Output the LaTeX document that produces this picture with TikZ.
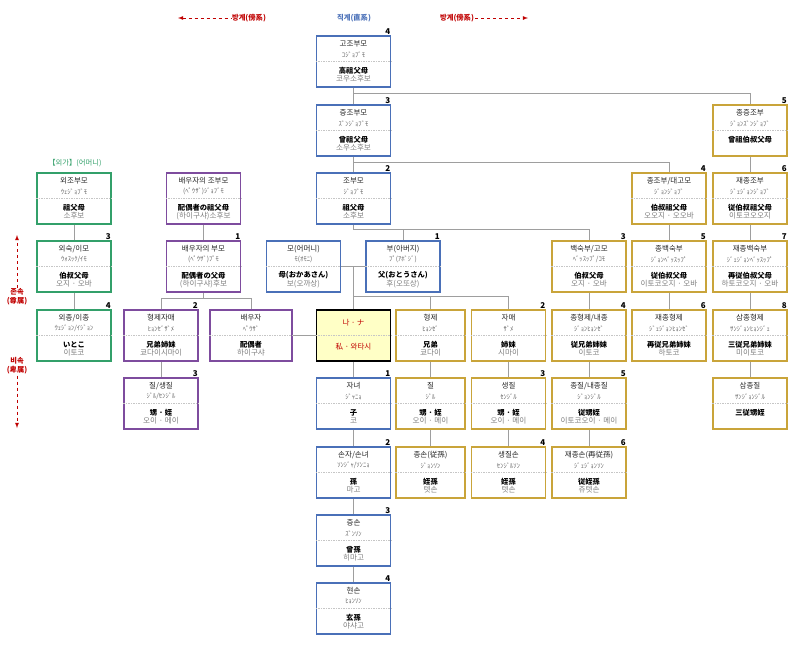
\documentclass[tikz,border=0pt]{standalone}
\usepackage{fontspec}
\setmainfont{Noto Sans CJK KR}
\usepackage{tikz}

\definecolor{kinblue}{HTML}{4A70B8}
\definecolor{kingold}{HTML}{C9A43A}
\definecolor{kingreen}{HTML}{33A06A}
\definecolor{kinpurple}{HTML}{7E4C9E}
\definecolor{kinred}{HTML}{C00000}
\definecolor{nayellow}{HTML}{FFFFC6}

\tikzset{
  kinbox/.style={rectangle, minimum width=74pt, minimum height=51pt, inner sep=0pt, line width=1.1pt, fill=white},
  divider/.style={gray!45, line width=0.4pt, dash pattern=on 1.5pt off 1pt},
  kintitle/.style={inner sep=0pt, font=\fontsize{7.5}{8}\selectfont, text=black!85},
  kinkana/.style={inner sep=0pt, font=\fontsize{6.6}{7}\selectfont, text=black!60},
  kinhanja/.style={inner sep=0pt, font=\fontsize{7.3}{8}\selectfont\bfseries, text=black},
  kinread/.style={inner sep=0pt, font=\fontsize{7.6}{8}\selectfont, text=black!50},
  degnum/.style={anchor=south east, inner sep=0.5pt, font=\fontsize{8}{9}\selectfont\bfseries},
  link/.style={black!38, line width=0.8pt},
  sidelbl/.style={inner sep=1pt, font=\fontsize{7.3}{9}\selectfont\bfseries, align=center}
}

% one box of the chart: [extra style]{name}{colour}{x}{top}{korean}{kana}{hanja}{reading}
\newcommand{\kin}[9][]{%
  \node[kinbox, draw=#3, #1] (#2) at (#4,-#5-25.5) {};
  \draw[divider] (#2.west) -- (#2.east);
  \node[kintitle] at ([yshift=-8.5pt]#2.north) {#6};
  \node[kinkana] at ([yshift=-19pt]#2.north) {#7};
  \node[kinhanja] at ([yshift=-35pt]#2.north) {#8};
  \node[kinread] at ([yshift=-43.5pt]#2.north) {#9};
}

\begin{document}
\begin{tikzpicture}[x=1pt, y=1pt, >=latex]
  \useasboundingbox (0,0) rectangle (800,-646);

  % Headers
  \node[sidelbl, text=kinred] (lefthead) at (249,-18) {방계(傍系)};
  \node[sidelbl, text=kinblue] (midhead) at (354,-18) {직계(直系)};
  \node[sidelbl, text=kinred] (righthead) at (457,-18) {방계(傍系)};
  \coordinate (leftend) at (178,-18);
  \coordinate (rightend) at (528,-18);
  \draw[<-, kinred, dashed, line width=0.8pt] (leftend) -- (lefthead.west);
  \draw[->, kinred, dashed, line width=0.8pt] (righthead.east) -- (rightend);

  \node[sidelbl, text=kinred] (zonsok) at (17,-297) {존속\\(尊属)};
  \node[sidelbl, text=kinred] (bisok) at (17,-366) {비속\\(卑属)};
  \coordinate (uptip) at (17,-235);
  \coordinate (downtip) at (17,-428);
  \draw[->, kinred, dashed, line width=0.8pt] (zonsok.north) -- (uptip);
  \draw[->, kinred, dashed, line width=0.8pt] (bisok.south) -- (downtip);

  \node[sidelbl, text=kingreen, font=\fontsize{7.3}{8}\selectfont] (wegahead) at (75,-163) {【외가】(어머니)};

  % Direct line
  \kin{gjbm}{kinblue}{353.5}{36}{고조부모}{ｺｼﾞｮﾌﾞﾓ}{高祖父母}{코우소후보}
  \kin{jjbm}{kinblue}{353.5}{105}{증조부모}{ｽﾞﾝｼﾞｮﾌﾞﾓ}{曾祖父母}{소우소후보}
  \kin{jbm}{kinblue}{353.5}{173}{조부모}{ｼﾞｮﾌﾞﾓ}{祖父母}{소후보}
  \kin{mo}{kinblue}{303.5}{241}{모(어머니)}{ﾓ(ｵﾓﾆ)}{母(おかあさん)}{보(오까상)}
  \kin{bu}{kinblue}{403}{241}{부(아버지)}{ﾌﾟ(ｱﾎﾞｼﾞ)}{父(おとうさん)}{후(오또상)}
  \kin{ja}{kinblue}{353.5}{378}{자녀}{ｼﾞｬﾆｮ}{子}{코}
  \kin{son}{kinblue}{353.5}{447}{손자/손녀}{ｿﾝｼﾞｬ/ｿﾝﾆｮ}{孫}{마고}
  \kin{json}{kinblue}{353.5}{515}{증손}{ｽﾞﾝｿﾝ}{曾孫}{히마고}
  \kin{hson}{kinblue}{353.5}{583}{현손}{ﾋｮﾝｿﾝ}{玄孫}{야샤고}

  \node[kinbox, draw=black, line width=1.6pt, fill=nayellow] (na) at (353.5,-335.5) {};
  \draw[divider] (na.west) -- (na.east);
  \node[kintitle, text=kinred] at ([yshift=-13pt]na.north) {나 · ナ};
  \node[kintitle, text=kinred] at ([yshift=-37pt]na.north) {私 · 와타시};

  % Collateral line
  \kin{jjjb}{kingold}{750}{105}{종증조부}{ｼﾞｮﾝｽﾞﾝｼﾞｮﾌﾞ}{曾祖伯叔父母}{}
  \kin{jjb}{kingold}{669}{173}{종조부/대고모}{ｼﾞｮﾝｼﾞｮﾌﾞ}{伯叔祖父母}{오오지 · 오오바}
  \kin{jjjbm}{kingold}{750}{173}{재종조부}{ｼﾞｪｼﾞｮﾝｼﾞｮﾌﾞ}{従伯叔祖父母}{이토코오오지}
  \kin{bsb}{kingold}{589}{241}{백숙부/고모}{ﾍﾞｯｽｯﾌﾟ/ｺﾓ}{伯叔父母}{오지 · 오바}
  \kin{jbsb}{kingold}{669}{241}{종백숙부}{ｼﾞｮﾝﾍﾞｯｽｯﾌﾟ}{従伯叔父母}{이토코오지 · 오바}
  \kin{jjbsb}{kingold}{750}{241}{재종백숙부}{ｼﾞｪｼﾞｮﾝﾍﾞｯｽｯﾌﾟ}{再従伯叔父母}{하토코오지 · 오바}
  \kin[minimum width=69pt]{hj}{kingold}{430.5}{310}{형제}{ﾋｮﾝｾﾞ}{兄弟}{쿄다이}
  \kin{jm}{kingold}{508.5}{310}{자매}{ｻﾞﾒ}{姉妹}{시마이}
  \kin{jhj}{kingold}{589}{310}{종형제/내종}{ｼﾞｮﾝﾋｮﾝｾﾞ}{従兄弟姉妹}{이토코}
  \kin{jjhj}{kingold}{669}{310}{재종형제}{ｼﾞｪｼﾞｮﾝﾋｮﾝｾﾞ}{再従兄弟姉妹}{하토코}
  \kin{sjhj}{kingold}{750}{310}{삼종형제}{ｻﾝｼﾞｮﾝﾋｮﾝｼﾞｪ}{三従兄弟姉妹}{미이토코}
  \kin[minimum width=69pt]{jil}{kingold}{430.5}{378}{질}{ｼﾞﾙ}{甥 · 姪}{오이 · 메이}
  \kin{sj}{kingold}{508.5}{378}{생질}{ｾﾝｼﾞﾙ}{甥 · 姪}{오이 · 메이}
  \kin{jj}{kingold}{589}{378}{종질/내종질}{ｼﾞｮﾝｼﾞﾙ}{従甥姪}{이토코오이 · 메이}
  \kin{sjj}{kingold}{750}{378}{삼종질}{ｻﾝｼﾞｮﾝｼﾞﾙ}{三従甥姪}{}
  \kin[minimum width=69pt]{jongson}{kingold}{430.5}{447}{종손(従孫)}{ｼﾞｮﾝｿﾝ}{姪孫}{텟손}
  \kin{sjs}{kingold}{508.5}{447}{생질손}{ｾﾝｼﾞﾙｿﾝ}{姪孫}{텟손}
  \kin{jjs}{kingold}{589}{447}{재종손(再従孫)}{ｼﾞｪｼﾞｮﾝｿﾝ}{従姪孫}{쥬텟손}

  % Mother's side
  \kin{wjbm}{kingreen}{74}{173}{외조부모}{ｳｪｼﾞｮﾌﾞﾓ}{祖父母}{소후보}
  \kin{ws}{kingreen}{74}{241}{외숙/이모}{ｳｫｽｯｸ/ｲﾓ}{伯叔父母}{오지 · 오바}
  \kin{wj}{kingreen}{74}{310}{외종/이종}{ｳｪｼﾞｮﾝ/ｲｼﾞｮﾝ}{いとこ}{이토코}

  % Spouse's side
  \kin{pjbm}{kinpurple}{203.5}{173}{배우자의 조부모}{(ﾍﾟｳｻﾞ)ｼﾞｮﾌﾞﾓ}{配偶者の祖父母}{(하이구샤)소후보}
  \kin{pbm}{kinpurple}{203.5}{241}{배우자의 부모}{(ﾍﾟｳｻﾞ)ﾌﾟﾓ}{配偶者の父母}{(하이구샤)후보}
  \kin{phj}{kinpurple}{161}{310}{형제자매}{ﾋｮﾝｾﾞｻﾞﾒ}{兄弟姉妹}{쿄다이시마이}
  \kin[minimum width=82pt]{pw}{kinpurple}{251}{310}{배우자}{ﾍﾟｳｻﾞ}{配偶者}{하이구샤}
  \kin{pjil}{kinpurple}{161}{378}{질/생질}{ｼﾞﾙ/ｾﾝｼﾞﾙ}{甥 · 姪}{오이 · 메이}

  % Degree numbers
  \foreach \n/\d in {gjbm/4, jjbm/3, jbm/2, bu/1, ja/1, son/2, json/3, hson/4,
      jjjb/5, jjb/4, jjjbm/6, bsb/3, jbsb/5, jjbsb/7, jm/2, jhj/4, jjhj/6, sjhj/8,
      sj/3, jj/5, sjs/4, jjs/6, ws/3, wj/4, pbm/1, phj/2, pjil/3} {
    \node[degnum] at (\n.north east) {\d};
  }

  % Connectors
  \draw[link] (gjbm.south) -- (jjbm.north);
  \draw[link] (gjbm.south) ++(0,-6) -| (jjjb.north);
  \draw[link] (jjbm.south) -- (jbm.north);
  \draw[link] (jjbm.south) ++(0,-6) -| (jjb.north);
  \draw[link] (jjjb.south) -- (jjjbm.north);
  \draw[link] (jbm.south) -- ++(0,-5) coordinate (jbmbar) -| (bsb.north);
  \draw[link] (jbmbar -| bu.north) -- (bu.north);
  \draw[link] (jjb.south) -- (jbsb.north);
  \draw[link] (jjjbm.south) -- (jjbsb.north);
  \draw[link] (mo.east) -- (bu.west);
  \draw[link] (mo.east -| na.north) -- (na.north);
  \draw[link] (na.north) ++(0,13) coordinate (nabar) -| (jm.north);
  \draw[link] (nabar -| hj.north) -- (hj.north);
  \draw[link] (bsb.south) -- (jhj.north);
  \draw[link] (jbsb.south) -- (jjhj.north);
  \draw[link] (jjbsb.south) -- (sjhj.north);
  \draw[link] (hj.south) -- (jil.north);
  \draw[link] (jm.south) -- (sj.north);
  \draw[link] (jhj.south) -- (jj.north);
  \draw[link] (sjhj.south) -- (sjj.north);
  \draw[link] (jil.south) -- (jongson.north);
  \draw[link] (sj.south) -- (sjs.north);
  \draw[link] (jj.south) -- (jjs.north);
  \draw[link] (na.south) -- (ja.north);
  \draw[link] (ja.south) -- (son.north);
  \draw[link] (son.south) -- (json.north);
  \draw[link] (json.south) -- (hson.north);
  \draw[link] (pw.east) -- (na.west);
  \draw[link] (pjbm.south) -- (pbm.north);
  \draw[link] (pbm.south) -- ++(0,-6) coordinate (pbar);
  \draw[link] (phj.north) |- (pbar) -| (pw.north);
  \draw[link] (phj.south) -- (pjil.north);
  \draw[link] (wjbm.south) -- (ws.north);
  \draw[link] (ws.south) -- (wj.north);
\end{tikzpicture}
\end{document}
